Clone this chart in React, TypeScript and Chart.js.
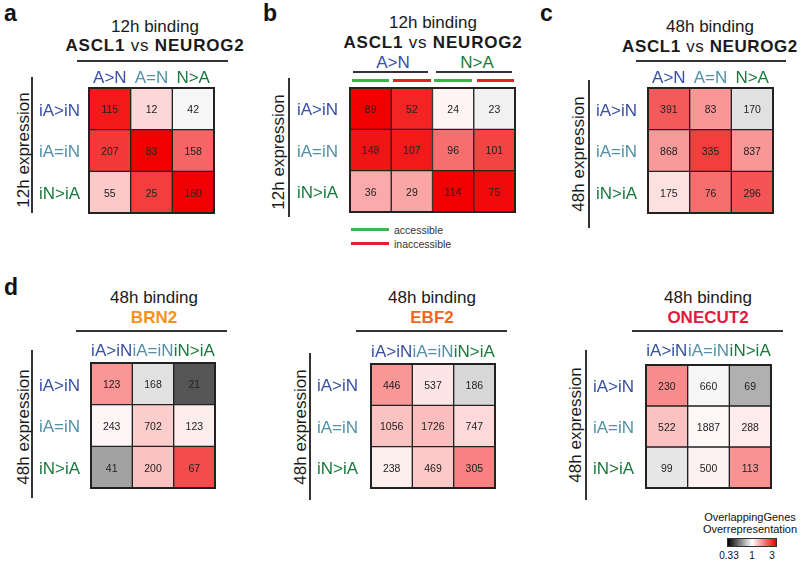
import React, { useEffect, useRef } from "react";
import { Chart, registerables } from "chart.js";

Chart.register(...registerables);

// ---------- data ----------
const AN_COLS = ["A>N", "A=N", "N>A"];
const EXPR_ROWS = ["iA>iN", "iA=iN", "iN>iA"];
const EXPR_COLS = ["iA>iN", "iA=iN", "iN>iA"];
const B_COLS = ["A>N accessible", "A>N inaccessible", "N>A accessible", "N>A inaccessible"];

const aCounts = [[115, 12, 42], [207, 83, 158], [55, 25, 160]];
const aRatio = [[2.69, 1.19, 0.96], [2.36, 3.0, 1.93], [1.27, 2.3, 3.0]];

const bCounts = [[89, 52, 24, 23], [148, 107, 96, 101], [36, 29, 114, 75]];
const bRatio = [[3.0, 2.57, 1.05, 0.94], [2.75, 2.69, 1.87, 2.25], [1.44, 1.47, 3.0, 2.87]];

const cCounts = [[391, 83, 170], [868, 335, 837], [175, 76, 296]];
const cRatio = [[2.04, 1.57, 0.88], [1.55, 2.3, 1.57], [1.14, 1.87, 2.09]];

const brn2Counts = [[123, 168, 21], [243, 702, 123], [41, 200, 67]];
const brn2Ratio = [[1.57, 0.88, 0.48], [1.04, 1.24, 1.08], [0.67, 1.3, 2.16]];

const ebf2Counts = [[446, 537, 186], [1056, 1726, 747], [238, 469, 305]];
const ebf2Ratio = [[1.57, 1.12, 0.84], [1.3, 1.33, 1.18], [1.07, 1.27, 1.71]];

const onecut2Counts = [[230, 660, 69], [522, 1887, 288], [99, 500, 113]];
const onecut2Ratio = [[1.64, 0.96, 0.71], [1.3, 1.03, 1.09], [0.9, 1.06, 1.6]];

const scaleTicks = ["0.33", "1", "3"];

// ---------- styles ----------
const FONT = "'Liberation Sans', Arial, Helvetica, sans-serif";
const BLUE = "#3750a3";
const TEAL = "#5291a8";
const GREEN = "#197a3d";
const LABEL_COLORS = [BLUE, TEAL, GREEN];
const LINE = "#333333";
const ACC_GREEN = "#3db54a";
const ACC_RED = "#ec1c2a";

function ratioColor(r: number): string {
  const t = Math.max(-1, Math.min(1, Math.log(r) / Math.log(3)));
  if (t >= 0) {
    const v = Math.round(255 * (1 - t));
    return `rgb(${Math.round(255 - 15 * t)},${v},${v})`;
  }
  const g = Math.round(255 * (1 + t));
  return `rgb(${g},${g},${g})`;
}

type HeatProps = {
  gridLeft: number;
  gridTop: number;
  gridW: number;
  gridH: number;
  cols: string[];
  rows: string[];
  counts: number[][];
  ratios: number[][];
  showX: boolean;
  xPad: number;
  yPad: number;
};

const X_AXIS_H = 30;
const Y_AXIS_W = 70;

function zeroPad(s: any) {
  s.paddingTop = 0;
  s.paddingBottom = 0;
  s.paddingLeft = 0;
  s.paddingRight = 0;
}

function Heatmap(p: HeatProps) {
  const ref = useRef<HTMLCanvasElement>(null);
  const topExtra = p.showX ? X_AXIS_H : 2;
  const w = Y_AXIS_W + p.gridW + 2;
  const h = topExtra + p.gridH + 2;

  useEffect(() => {
    if (!ref.current) return;
    const counts = p.counts;
    const cellText = {
      id: "cellText",
      afterDatasetsDraw(chart: any) {
        const ctx = chart.ctx;
        ctx.save();
        ctx.font = `10.5px ${FONT}`;
        ctx.fillStyle = "#222";
        ctx.textAlign = "center";
        ctx.textBaseline = "middle";
        chart.data.datasets.forEach((_ds: any, di: number) => {
          const meta = chart.getDatasetMeta(di);
          meta.data.forEach((el: any, i: number) => {
            const { x, y, base } = el.getProps(["x", "y", "base"], true);
            ctx.fillText(String(counts[di][i]), x, (y + base) / 2 + 1.5);
          });
        });
        const a = chart.chartArea;
        ctx.strokeStyle = "#222";
        ctx.lineWidth = 2;
        ctx.strokeRect(a.left, a.top, a.right - a.left, a.bottom - a.top);
        ctx.restore();
      },
    };
    const chart = new Chart(ref.current, {
      type: "bar",
      data: {
        labels: p.cols,
        datasets: p.rows.map((rl, ri) => ({
          label: rl,
          data: p.counts[ri].map(() => 1),
          backgroundColor: p.ratios[ri].map(ratioColor),
          borderColor: "#222",
          borderWidth: 1,
          borderSkipped: false,
          categoryPercentage: 1,
          barPercentage: 1,
          xAxisID: "x",
          yAxisID: "y",
        })),
      },
      options: {
        responsive: false,
        animation: false,
        events: [],
        layout: {
          autoPadding: false,
          padding: { left: 0, top: p.showX ? 0 : 2, right: 2, bottom: 2 },
        },
        plugins: { legend: { display: false }, tooltip: { enabled: false } },
        scales: {
          x: {
            type: "category",
            position: "top",
            display: p.showX,
            stacked: true,
            offset: true,
            grid: { display: false, drawTicks: false },
            border: { display: false },
            ticks: {
              autoSkip: false,
              maxRotation: 0,
              minRotation: 0,
              padding: p.xPad,
              color: (c: any) => LABEL_COLORS[c.index % 3],
              font: { family: FONT, size: 17 },
            },
            afterFit: (s: any) => {
              s.height = p.showX ? X_AXIS_H : 0;
              zeroPad(s);
            },
          },
          y: {
            type: "linear",
            display: false,
            stacked: true,
            min: 0,
            max: p.rows.length,
            reverse: true,
            afterFit: zeroPad,
          },
          yl: {
            type: "category",
            axis: "y",
            position: "left",
            labels: p.rows,
            offset: true,
            grid: { display: false, drawTicks: false },
            border: { display: false },
            ticks: {
              autoSkip: false,
              padding: p.yPad,
              labelOffset: 2,
              color: (c: any) => LABEL_COLORS[c.index % 3],
              font: { family: FONT, size: 17 },
            },
            afterFit: (s: any) => {
              s.width = Y_AXIS_W;
              zeroPad(s);
            },
          },
        } as any,
      },
      plugins: [cellText],
    } as any);
    return () => chart.destroy();
  }, []);

  return (
    <canvas
      ref={ref}
      width={w}
      height={h}
      style={{
        position: "absolute",
        left: p.gridLeft - Y_AXIS_W,
        top: p.gridTop - topExtra,
        width: w,
        height: h,
      }}
    />
  );
}

type TP = {
  x: number;
  y: number;
  size?: number;
  bold?: boolean;
  color?: string;
  align?: "left" | "center" | "right";
  rotate?: boolean;
  spacing?: number;
  children: React.ReactNode;
};

function T({ x, y, size = 17, bold = false, color = "#1a1a1a", align = "center", rotate = false, spacing = 0, children }: TP) {
  const tx = align === "left" ? "0" : align === "right" ? "-100%" : "-50%";
  return (
    <div
      style={{
        position: "absolute",
        left: x,
        top: y,
        transform: `translate(${tx},-50%)${rotate ? " rotate(-90deg)" : ""}`,
        fontFamily: FONT,
        fontSize: size,
        fontWeight: bold ? "bold" : "normal",
        letterSpacing: spacing,
        color,
        lineHeight: 1,
        whiteSpace: "nowrap",
      }}
    >
      {children}
    </div>
  );
}

function HL({ x1, x2, y, t = 2, color = LINE }: { x1: number; x2: number; y: number; t?: number; color?: string }) {
  return <div style={{ position: "absolute", left: x1, top: y - t / 2, width: x2 - x1, height: t, background: color }} />;
}
function VL({ x, y1, y2, t = 2 }: { x: number; y1: number; y2: number; t?: number }) {
  return <div style={{ position: "absolute", left: x - t / 2, top: y1, width: t, height: y2 - y1, background: LINE }} />;
}

function TwoLineTitle({ x, y1, y2, top, second, secondColor, spacing = 0 }: { x: number; y1: number; y2: number; top: string; second: React.ReactNode; secondColor?: string; spacing?: number }) {
  return (
    <>
      <T x={x} y={y1}>{top}</T>
      <T x={x} y={y2} bold spacing={spacing} color={secondColor || "#1a1a1a"}>{second}</T>
    </>
  );
}

const AvsN = (
  <>
    ASCL1 <span style={{ fontWeight: "normal" }}>vs</span> NEUROG2
  </>
);

export default function App() {
  return (
    <div style={{ position: "absolute", left: 0, top: 0, width: 800, height: 564, background: "#fff", overflow: "hidden" }}>
      {/* panel letters */}
      <T x={4} y={13} size={23} bold align="left" color="#111">a</T>
      <T x={263} y={13} size={23} bold align="left" color="#111">b</T>
      <T x={540} y={13} size={23} bold align="left" color="#111">c</T>
      <T x={4} y={287} size={23} bold align="left" color="#111">d</T>

      {/* ---- panel a ---- */}
      <TwoLineTitle x={155} y1={26} y2={45} top="12h binding" second={AvsN} spacing={0.8} />
      <HL x1={77} x2={228} y={61} />
      <VL x={32} y1={77} y2={213} />
      <T x={23} y={150} rotate>12h expression</T>
      <Heatmap gridLeft={89} gridTop={88} gridW={125} gridH={125} cols={AN_COLS} rows={EXPR_ROWS}
        counts={aCounts} ratios={aRatio} showX xPad={-1} yPad={9} />

      {/* ---- panel b ---- */}
      <TwoLineTitle x={433} y1={22} y2={42} top="12h binding" second={AvsN} spacing={0.8} />
      <T x={393} y={62} color={BLUE}>A&gt;N</T>
      <T x={477} y={62} color={GREEN}>N&gt;A</T>
      <HL x1={353} x2={428} y={72} t={1.5} />
      <HL x1={436} x2={512} y={72} t={1.5} />
      <HL x1={352} x2={389} y={80.5} t={3} color={ACC_GREEN} />
      <HL x1={393} x2={431} y={80.5} t={3} color={ACC_RED} />
      <HL x1={434} x2={472} y={80.5} t={3} color={ACC_GREEN} />
      <HL x1={477} x2={514} y={80.5} t={3} color={ACC_RED} />
      <VL x={289} y1={78} y2={217} />
      <T x={278} y={152} rotate>12h expression</T>
      <Heatmap gridLeft={350} gridTop={88} gridW={165} gridH={124} cols={B_COLS} rows={EXPR_ROWS}
        counts={bCounts} ratios={bRatio} showX={false} xPad={0} yPad={12} />
      <HL x1={351} x2={389} y={229.5} t={3} color={ACC_GREEN} />
      <T x={394} y={230} size={10.5} align="left" color="#333">accessible</T>
      <HL x1={351} x2={389} y={243} t={3} color={ACC_RED} />
      <T x={394} y={243.5} size={10.5} align="left" color="#333">inaccessible</T>

      {/* ---- panel c ---- */}
      <TwoLineTitle x={710} y1={26} y2={46} top="48h binding" second={AvsN} spacing={0.6} />
      <HL x1={636} x2={786} y={61} />
      <VL x={589} y1={80} y2={228} />
      <T x={578} y={154} rotate>48h expression</T>
      <Heatmap gridLeft={648} gridTop={88} gridW={125} gridH={125} cols={AN_COLS} rows={EXPR_ROWS}
        counts={cCounts} ratios={cRatio} showX xPad={-1} yPad={11} />

      {/* ---- panel d: BRN2 ---- */}
      <TwoLineTitle x={154} y1={297} y2={317} top="48h binding" second="BRN2" secondColor="#f7901e" />
      <HL x1={76} x2={227} y={331} />
      <VL x={32} y1={350} y2={498} />
      <T x={23} y={427} rotate>48h expression</T>
      <Heatmap gridLeft={91} gridTop={363} gridW={124} gridH={125} cols={EXPR_COLS} rows={EXPR_ROWS}
        counts={brn2Counts} ratios={brn2Ratio} showX xPad={1} yPad={11} />

      {/* ---- EBF2 ---- */}
      <TwoLineTitle x={432} y1={297} y2={317} top="48h binding" second="EBF2" secondColor="#f26522" />
      <HL x1={356} x2={507} y={331} />
      <VL x={310} y1={353} y2={500} />
      <T x={300} y={427} rotate>48h expression</T>
      <Heatmap gridLeft={371} gridTop={364} gridW={124} gridH={124} cols={EXPR_COLS} rows={EXPR_ROWS}
        counts={ebf2Counts} ratios={ebf2Ratio} showX xPad={1} yPad={13} />

      {/* ---- ONECUT2 ---- */}
      <TwoLineTitle x={708} y1={297} y2={317} top="48h binding" second="ONECUT2" secondColor="#e2183d" />
      <HL x1={632} x2={783} y={331} />
      <VL x={586} y1={350} y2={500} />
      <T x={575} y={425} rotate>48h expression</T>
      <Heatmap gridLeft={646} gridTop={365} gridW={125} gridH={123} cols={EXPR_COLS} rows={EXPR_ROWS}
        counts={onecut2Counts} ratios={onecut2Ratio} showX xPad={3} yPad={12} />

      {/* colour scale */}
      <T x={750} y={517} size={11} color="#111">OverlappingGenes</T>
      <T x={750} y={529} size={11} color="#111">Overrepresentation</T>
      <div
        style={{
          position: "absolute",
          left: 727,
          top: 538,
          width: 50,
          height: 9,
          boxSizing: "border-box",
          border: "1px solid #333",
          background: `linear-gradient(to right, ${ratioColor(1 / 3)}, ${ratioColor(1)} 50%, ${ratioColor(3)})`,
        }}
      />
      <T x={729} y={556} size={10} color="#111">{scaleTicks[0]}</T>
      <T x={752} y={556} size={10} color="#111">{scaleTicks[1]}</T>
      <T x={772} y={556} size={10} color="#111">{scaleTicks[2]}</T>
    </div>
  );
}
